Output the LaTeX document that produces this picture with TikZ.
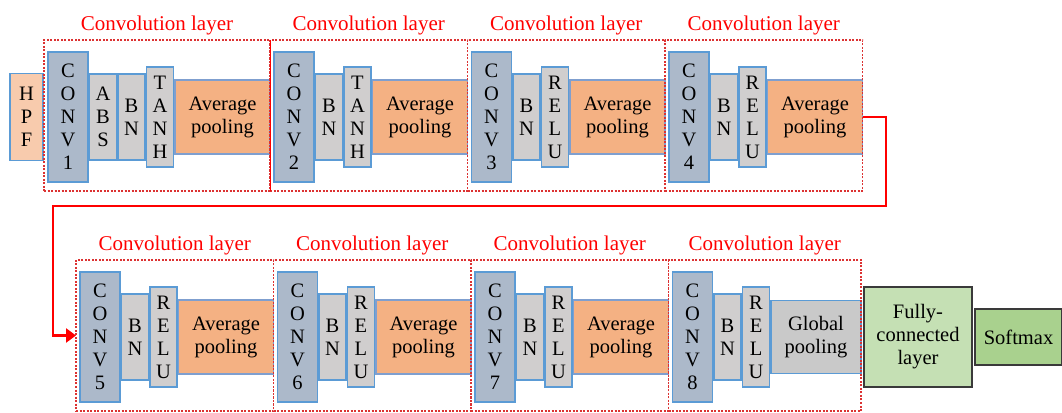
\documentclass[tikz,border=0pt]{standalone}
\usepackage{fontspec}
\setmainfont{Liberation Serif}
\usetikzlibrary{positioning,fit,arrows.meta}
\definecolor{convfill}{HTML}{ACB9CA}
\definecolor{normfill}{HTML}{D0CECE}
\definecolor{poolfill}{HTML}{F4B183}
\definecolor{hpffill}{HTML}{F8CBAD}
\definecolor{gpfill}{HTML}{C9C9C9}
\definecolor{fcfill}{HTML}{C5E0B4}
\definecolor{smfill}{HTML}{A9D18E}
\definecolor{edgeblue}{HTML}{5B9BD5}
\definecolor{pooledge}{HTML}{7F9FCF}
\definecolor{darkedge}{HTML}{3A3A3A}
\definecolor{dashred}{RGB}{220,50,50}

\begin{document}
\begin{tikzpicture}[x=1pt,y=1pt,
blocknode/.style={rectangle, draw=edgeblue, line width=1.2pt, inner sep=0pt, outer sep=0pt,
align=center, font=\fontsize{20.5}{23}\selectfont},
hpfnode/.style={blocknode, fill=hpffill, minimum width=33pt, minimum height=87pt},
convnode/.style={blocknode, fill=convfill, minimum width=40pt, minimum height=130pt},
normnode/.style={blocknode, fill=normfill, minimum width=27pt, minimum height=86pt},
actnode/.style={blocknode, fill=normfill, minimum width=27pt, minimum height=100pt},
poolnode/.style={blocknode, draw=pooledge, fill=poolfill, minimum width=95pt, minimum height=74pt},
gpnode/.style={blocknode, fill=gpfill, minimum width=90pt, minimum height=73pt},
fcnode/.style={blocknode, draw=darkedge, fill=fcfill, minimum width=108pt, minimum height=100pt},
smnode/.style={blocknode, draw=darkedge, fill=smfill, minimum width=87pt, minimum height=56pt},
layerbox/.style={rectangle, draw=dashred, line width=1.1pt, dash pattern=on 2pt off 1.5pt,
inner sep=0pt, outer sep=0pt},
layerlabel/.style={text=red, font=\fontsize{21}{25}\selectfont},
feedline/.style={red, line width=2.6pt, -{Triangle[length=10pt,width=14pt]}}
]
\useasboundingbox (0,0) rectangle (1062,412);

%Nodes: first row
\node[hpfnode]  (hpf)   at (26.5,295)          {H\\P\\F};
\node[convnode] (conv1) [right=5pt of hpf]     {C\\O\\N\\V\\1};
\node[normnode] (abs1)  [right=1.5pt of conv1] {A\\B\\S};
\node[normnode] (bn1)   [right=1.5pt of abs1]  {B\\N};
\node[actnode]  (tanh1) [right=1.5pt of bn1]   {T\\A\\N\\H};
\node[poolnode] (ap1)   [right=1.5pt of tanh1] {Average\\pooling};

\node[convnode] (conv2) [right=4pt of ap1]     {C\\O\\N\\V\\2};
\node[normnode] (bn2)   [right=1.5pt of conv2] {B\\N};
\node[actnode]  (tanh2) [right=1.5pt of bn2]   {T\\A\\N\\H};
\node[poolnode] (ap2)   [right=1.5pt of tanh2] {Average\\pooling};

\node[convnode] (conv3) [right=4pt of ap2]     {C\\O\\N\\V\\3};
\node[normnode] (bn3)   [right=1.5pt of conv3] {B\\N};
\node[actnode]  (relu3) [right=1.5pt of bn3]   {R\\E\\L\\U};
\node[poolnode] (ap3)   [right=1.5pt of relu3] {Average\\pooling};

\node[convnode] (conv4) [right=4pt of ap3]     {C\\O\\N\\V\\4};
\node[normnode] (bn4)   [right=1.5pt of conv4] {B\\N};
\node[actnode]  (relu4) [right=1.5pt of bn4]   {R\\E\\L\\U};
\node[poolnode] (ap4)   [right=1.5pt of relu4] {Average\\pooling};

%Nodes: second row
\node[convnode] (conv5) at (100,75)            {C\\O\\N\\V\\5};
\node[normnode] (bn5)   [right=1.5pt of conv5] {B\\N};
\node[actnode]  (relu5) [right=1.5pt of bn5]   {R\\E\\L\\U};
\node[poolnode] (ap5)   [right=1.5pt of relu5] {Average\\pooling};

\node[convnode] (conv6) [right=4pt of ap5]     {C\\O\\N\\V\\6};
\node[normnode] (bn6)   [right=1.5pt of conv6] {B\\N};
\node[actnode]  (relu6) [right=1.5pt of bn6]   {R\\E\\L\\U};
\node[poolnode] (ap6)   [right=1.5pt of relu6] {Average\\pooling};

\node[convnode] (conv7) [right=4pt of ap6]     {C\\O\\N\\V\\7};
\node[normnode] (bn7)   [right=1.5pt of conv7] {B\\N};
\node[actnode]  (relu7) [right=1.5pt of bn7]   {R\\E\\L\\U};
\node[poolnode] (ap7)   [right=1.5pt of relu7] {Average\\pooling};

\node[convnode] (conv8) [right=4pt of ap7]     {C\\O\\N\\V\\8};
\node[normnode] (bn8)   [right=1.5pt of conv8] {B\\N};
\node[actnode]  (relu8) [right=1.5pt of bn8]   {R\\E\\L\\U};
\node[gpnode]   (gp8)   [right=1.5pt of relu8] {Global\\pooling};

\node[fcnode]   (fc)    [right=3pt of gp8]     {Fully-\\connected\\layer};
\node[smnode]   (sm)    [right=3pt of fc]      {Softmax};

%Layer boxes
\foreach \c/\p/\n in {conv1/ap1/1, conv2/ap2/2, conv3/ap3/3, conv4/ap4/4,
                      conv5/ap5/5, conv6/ap6/6, conv7/ap7/7, conv8/gp8/8} {
  \node[layerbox, fit={([shift={(-4,12)}]\c.north west) ([yshift=-9pt]\c.south -| \p.east)}] (layer\n) {};
  \node[layerlabel, above=1pt of layer\n] {Convolution layer};
}
\draw[red, line width=0.6pt] (layer1.north east) -- (layer1.south east);

%Lines
\coordinate (turnA) at (886,206);
\coordinate (turnB) at (53,206);
\draw[feedline] (ap4.east) -| (turnA) -- (turnB) |- (layer5.west);
\end{tikzpicture}
\end{document}
